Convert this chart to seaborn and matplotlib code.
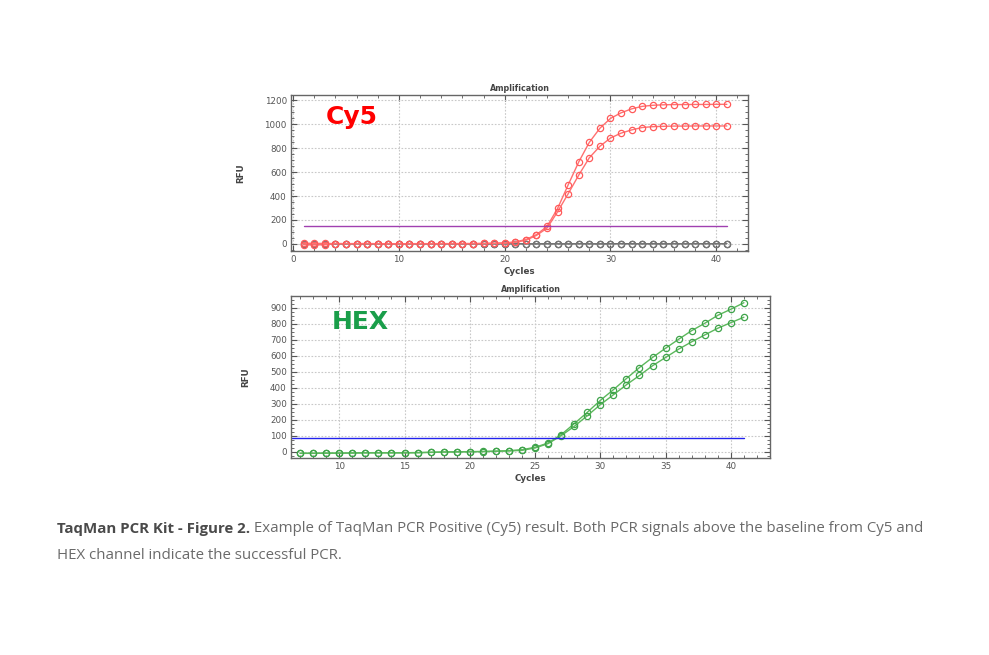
import numpy as np
import pandas as pd
import matplotlib
matplotlib.use('Agg')
import matplotlib.pyplot as plt
from matplotlib.ticker import AutoMinorLocator
import seaborn as sns

# ---------- data ----------
cy5_cycles = list(range(1, 42))
cy5_pos_a = [-8, -9, -8, 2, 1, 2, 2, 1, 0, 1, 1, 2, 1, 1, 2, 2, 2, 3, 5, 8,
             16, 36, 77, 145, 296, 493, 685, 849, 967, 1049, 1096, 1129, 1150, 1159, 1163,
             1165, 1165, 1166, 1166, 1167, 1167]
cy5_pos_b = [5, 4, 3, 2, 2, 1, 2, 1, 1, 0, 1, 1, 1, 2, 1, 2, 2, 3, 4, 6,
             12, 30, 70, 131, 268, 419, 575, 720, 816, 885, 926, 953, 973, 980, 983,
             985, 985, 986, 986, 986, 986]
cy5_neg_a = [0, 1, 1, 0, 0, 1, 0, 0, -1, 0, 0, 0, 1, 0, 0, 0, 0, 1, 0, 0,
             1, 0, 0, 1, 0, 0, 1, 0, 0, 1, 2, 1, 0, 1, 0, 1, 0, 1, 1, 1, 2]
cy5_neg_b = [-3, -2, -2, -1, -1, 0, -1, -1, -1, -1, 0, -1, -1, 0, -1, -1, 0, -1, 0, 0,
             -1, 0, -1, 0, 0, -1, 0, 0, -1, 0, 0, -1, 0, 0, 0, 1, 0, 0, 1, 0, 1]
cy5_threshold = 150

hex_cycles = list(range(7, 42))
hex_pos_a = [-10, -10, -9, -9, -8, -7, -7, -7, -7, -6, -4, -2, -1, 0, 1, 3, 6,
             12, 27, 54, 106, 175, 246, 321, 388, 458, 527, 590, 648, 704, 758, 804,
             854, 892, 933]
hex_pos_b = [-11, -11, -10, -10, -9, -8, -8, -8, -8, -7, -5, -3, -2, -1, 0, 2, 4,
             8, 23, 50, 100, 158, 225, 294, 356, 419, 477, 538, 590, 642, 688, 731,
             773, 808, 842]
hex_threshold = 88

caption_bold = 'TaqMan PCR Kit - Figure 2.'
caption_rest = ' Example of TaqMan PCR Positive (Cy5) result. Both PCR signals above the baseline from Cy5 and'
caption_line2 = 'HEX channel indicate the successful PCR.'

sns.set_style('white')
plt.rcParams['font.family'] = ['DejaVu Sans']

fig = plt.figure(figsize=(9.89, 6.55), dpi=100)
ax1 = fig.add_axes([291/989, (655-251)/655, (748-291)/989, (251-95)/655])
ax2 = fig.add_axes([291/989, (655-458)/655, (770-291)/989, (458-296)/655])


def style_axis(ax):
    ax.grid(True, which='major', color='#c8c8c8', linestyle=(0, (1.5, 1.5)), lw=0.8)
    ax.xaxis.set_minor_locator(AutoMinorLocator(5))
    ax.yaxis.set_minor_locator(AutoMinorLocator(4))
    ax.tick_params(which='both', direction='in', top=True, right=True, bottom=True, left=True,
                   colors='#555555', labelcolor='#555555', labelsize=6.3)
    ax.tick_params(which='major', length=4, width=0.8, pad=3)
    ax.tick_params(which='minor', length=2, width=0.6)
    for s in ax.spines.values():
        s.set_color('#666666')
        s.set_linewidth(1.0)
    ax.set_title('Amplification', fontsize=5.8, fontweight='bold', color='#444444', pad=3)
    ax.set_xlabel('Cycles', fontsize=6.3, fontweight='bold', color='#444444', labelpad=2)
    ax.set_ylabel('RFU', fontsize=6.3, fontweight='bold', color='#444444', labelpad=14)


# ---------- Cy5 ----------
cy5 = pd.DataFrame({'Cycle': cy5_cycles, 'pos_a': cy5_pos_a, 'pos_b': cy5_pos_b,
                    'neg_a': cy5_neg_a, 'neg_b': cy5_neg_b})
for col, c in [('neg_a', '#555555'), ('neg_b', '#777777')]:
    sns.lineplot(data=cy5, x='Cycle', y=col, ax=ax1, color=c, lw=0.9, marker='o',
                 markersize=4.5, markerfacecolor='none', markeredgecolor=c, markeredgewidth=0.9)
for col in ['pos_a', 'pos_b']:
    sns.lineplot(data=cy5, x='Cycle', y=col, ax=ax1, color='#ff7070', lw=1.0, marker='o',
                 markersize=4.5, markerfacecolor='none', markeredgecolor='#ff5a5a', markeredgewidth=0.9)
ax1.plot([cy5_cycles[0], cy5_cycles[-1]], [cy5_threshold, cy5_threshold], color='#a040b0', lw=1.0)
ax1.set_xlim(-0.2, 43.0)
ax1.set_ylim(-60, 1245)
ax1.set_xticks([0, 10, 20, 30, 40])
ax1.set_yticks([0, 200, 400, 600, 800, 1000, 1200])
style_axis(ax1)
ax1.text(0.075, 0.86, 'Cy5', transform=ax1.transAxes, color='#ff0000', fontsize=18,
         fontweight='bold', va='center', ha='left')

# ---------- HEX ----------
hx = pd.DataFrame({'Cycle': hex_cycles, 'pos_a': hex_pos_a, 'pos_b': hex_pos_b})
for col in ['pos_a', 'pos_b']:
    sns.lineplot(data=hx, x='Cycle', y=col, ax=ax2, color='#5cb85c', lw=1.0, marker='o',
                 markersize=4.5, markerfacecolor='none', markeredgecolor='#3ea34a', markeredgewidth=0.9)
ax2.plot([hex_cycles[0] - 0.6, 41], [hex_threshold, hex_threshold], color='#2222ee', lw=1.0)
ax2.set_xlim(6.3, 43.0)
ax2.set_ylim(-40, 975)
ax2.set_xticks([10, 15, 20, 25, 30, 35, 40])
ax2.set_yticks(list(range(0, 1000, 100)))
style_axis(ax2)
ax2.text(0.085, 0.84, 'HEX', transform=ax2.transAxes, color='#1a9e4a', fontsize=18,
         fontweight='bold', va='center', ha='left')

# ---------- caption ----------
cap_font = ['Open Sans', 'DejaVu Sans']
t_bold = fig.text(57/989, 1 - 533/655, caption_bold, fontsize=10.8, fontweight='bold',
                  color='#4a4a4a', family=cap_font, va='baseline')
ax1.annotate(caption_rest, xy=(1, 0), xycoords=t_bold, fontsize=10.8, color='#6a6a6a',
             family=cap_font, va='bottom', ha='left', annotation_clip=False)
fig.text(57/989, 1 - 559/655, caption_line2, fontsize=10.8, color='#6a6a6a',
         family=cap_font, va='baseline')

fig.savefig('out.png', dpi=100, facecolor='white')
